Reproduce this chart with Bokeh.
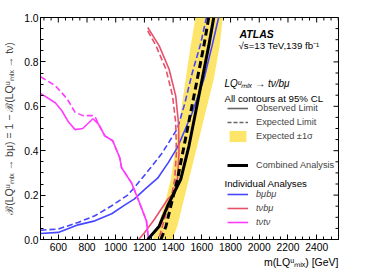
import math
from bokeh.plotting import figure
from bokeh.models import (Range1d, SingleIntervalTicker, Label, Legend, Title,
                          LegendItem, PrintfTickFormatter)
from bokeh.embed import file_html
from bokeh.resources import INLINE

# ---------------- data ----------------
x_min, x_max = 476, 2552
y_min, y_max = 0.0, 1.0
x_tick_step = 200
y_tick_step = 0.2
x_major_ticks = [600, 800, 1000, 1200, 1400, 1600, 1800, 2000, 2200, 2400]
y_major_ticks = [0.0, 0.2, 0.4, 0.6, 0.8, 1.0]

# combined analysis (black) and expected +-1 sigma band
comb_y = [0.0, 0.06, 0.151, 0.271, 0.421, 0.571, 0.722, 0.872, 1.0]
comb_obs_x = [1223, 1303, 1361, 1453, 1510, 1556, 1602, 1648, 1683]
comb_exp_x = [1315, 1350, 1384, 1430, 1476, 1522, 1568, 1614, 1648]
band_lo_x = [1257, 1292, 1338, 1384, 1419, 1453, 1487, 1522, 1556]
band_hi_x = [1395, 1429, 1464, 1510, 1568, 1625, 1683, 1724, 1746]

# b mu b mu (blue)
bb_obs_x = [476, 600, 738, 855, 972, 1062, 1131, 1200, 1292, 1365, 1430, 1480, 1533, 1614, 1671, 1717]
bb_obs_y = [0.027, 0.032, 0.066, 0.084, 0.116, 0.155, 0.183, 0.225, 0.276, 0.345, 0.415, 0.49, 0.571, 0.722, 0.872, 1.0]
bb_exp_x = [476, 600, 738, 855, 972, 1083, 1131, 1246, 1324, 1430, 1480, 1533, 1591, 1632]
bb_exp_y = [0.042, 0.047, 0.077, 0.107, 0.152, 0.2, 0.235, 0.325, 0.39, 0.5, 0.61, 0.75, 0.88, 1.0]

# t nu b mu (red)
tb_obs_x = [1223, 1303, 1372, 1418, 1437, 1441, 1430, 1407, 1361, 1315, 1269, 1200, 1160]
tb_obs_y = [0.955, 0.872, 0.767, 0.647, 0.526, 0.391, 0.271, 0.211, 0.18, 0.135, 0.09, 0.03, 0.0]
tb_exp_x = [1223, 1281, 1350, 1396, 1418, 1423, 1411, 1384, 1338, 1300]
tb_exp_y = [0.94, 0.872, 0.767, 0.647, 0.526, 0.391, 0.271, 0.18, 0.09, 0.0]

# t nu t nu (magenta)
tt_obs_x = [476, 579, 625, 670, 717, 770, 841, 880, 924, 979, 1028, 1041, 1110, 1152, 1214, 1228]
tt_obs_y = [0.658, 0.616, 0.58, 0.53, 0.495, 0.5, 0.544, 0.52, 0.467, 0.445, 0.368, 0.323, 0.255, 0.188, 0.084, 0.0]
tt_exp_x = [476, 579, 660, 717, 772, 841, 860, 880, 924, 979, 1028, 1041, 1110, 1152, 1214, 1228]
tt_exp_y = [0.733, 0.693, 0.635, 0.573, 0.558, 0.558, 0.548, 0.52, 0.467, 0.445, 0.368, 0.323, 0.255, 0.188, 0.084, 0.0]

# ---------------- figure ----------------
FONT = "Liberation Sans"
BLUE = "#4646ff"
RED = "#e8506a"
MAG = "#ff3cff"
YEL = "#fde56a"

p = figure(width=358, height=272,
           x_range=Range1d(x_min, x_max), y_range=Range1d(y_min, y_max),
           output_backend="svg", toolbar_location=None,
           min_border_left=37, min_border_right=20, min_border_top=17, min_border_bottom=33)
p.xgrid.visible = False
p.ygrid.visible = False
p.outline_line_color = "black"
p.background_fill_color = "white"

p.xaxis.ticker = SingleIntervalTicker(interval=x_tick_step, num_minor_ticks=4)
p.yaxis.ticker = SingleIntervalTicker(interval=y_tick_step, num_minor_ticks=4)
p.yaxis.formatter = PrintfTickFormatter(format="%.1f")

for ax in [p.xaxis[0], p.yaxis[0]]:
    ax.axis_line_color = "black"
    ax.major_tick_line_color = "black"
    ax.minor_tick_line_color = "black"
    ax.major_tick_in = 5
    ax.major_tick_out = 0
    ax.minor_tick_in = 3
    ax.minor_tick_out = 0
    ax.major_label_text_font = FONT
    ax.major_label_text_font_size = "10.3px"
    ax.major_label_text_color = "black"
p.xaxis[0].major_label_standoff = 3
p.yaxis[0].major_label_standoff = 2

p.yaxis[0].axis_label = "ℬ(LQᵘₘᵢₓ → bμ) = 1 − ℬ(LQᵘₘᵢₓ → tν)"
p.yaxis[0].axis_label_text_font = FONT
p.yaxis[0].axis_label_text_font_size = "10.5px"
p.yaxis[0].axis_label_text_font_style = "normal"
p.yaxis[0].axis_label_standoff = 6

# x axis title, right aligned under the frame
p.add_layout(Title(text="m(LQᵘₘᵢₓ) [GeV]", align="right", text_font=FONT,
                   text_font_size="10.5px", text_font_style="normal",
                   text_color="black", standoff=0, offset=0), "below")

# mirrored inward ticks on the top and right edges
x_minor_ticks = [v for v in range(500, x_max + 1, x_tick_step // 4) if v not in x_major_ticks]
y_minor_ticks = [round(i * y_tick_step / 4, 3) for i in range(21)]
y_minor_ticks = [v for v in y_minor_ticks if v not in y_major_ticks]
p.ray(x=x_major_ticks, y=[y_max] * len(x_major_ticks), length=5, length_units="screen",
      angle=-math.pi / 2, line_color="black", line_width=1)
p.ray(x=x_minor_ticks, y=[y_max] * len(x_minor_ticks), length=3, length_units="screen",
      angle=-math.pi / 2, line_color="black", line_width=1)
p.ray(x=[x_max] * len(y_major_ticks), y=y_major_ticks, length=5, length_units="screen",
      angle=math.pi, line_color="black", line_width=1)
p.ray(x=[x_max] * len(y_minor_ticks), y=y_minor_ticks, length=3, length_units="screen",
      angle=math.pi, line_color="black", line_width=1)

# band
band = p.harea(x1=band_lo_x, x2=band_hi_x, y=comb_y, fill_color=YEL, fill_alpha=1.0)

# individual analyses
bb_o = p.line(bb_obs_x, bb_obs_y, line_color=BLUE, line_width=1.6)
p.line(bb_exp_x, bb_exp_y, line_color=BLUE, line_width=1.6, line_dash="6 3")
tb_o = p.line(tb_obs_x, tb_obs_y, line_color=RED, line_width=1.6)
p.line(tb_exp_x, tb_exp_y, line_color=RED, line_width=1.6, line_dash="6 3")
tt_o = p.line(tt_obs_x, tt_obs_y, line_color=MAG, line_width=1.6)
p.line(tt_exp_x, tt_exp_y, line_color=MAG, line_width=1.6, line_dash="6 3")

# combined
comb_o = p.line(comb_obs_x, comb_y, line_color="black", line_width=3)
p.line(comb_exp_x, comb_y, line_color="black", line_width=3, line_dash="7 4")

# legend-only renderers (no visible data)
nan = float("nan")
obs_dummy = p.line(x=[nan, nan], y=[nan, nan], line_color="#666666", line_width=1.6)
exp_dummy = p.line(x=[nan, nan], y=[nan, nan], line_color="#666666", line_width=1.6, line_dash="4 2")


def make_legend(items, loc, style="normal"):
    lg = Legend(items=items, location=loc,
                label_text_font=FONT, label_text_font_size="9.2px",
                label_text_font_style=style,
                glyph_width=21, glyph_height=14, label_height=14, label_standoff=8,
                padding=0, spacing=0, margin=0,
                border_line_alpha=0, background_fill_alpha=0)
    p.add_layout(lg)
    return lg


make_legend([LegendItem(label="Observed Limit", renderers=[obs_dummy]),
             LegendItem(label="Expected Limit", renderers=[exp_dummy]),
             LegendItem(label="Expected ±1σ", renderers=[band])], (187, 96))
make_legend([LegendItem(label="Combined Analysis", renderers=[comb_o])], (187, 67))
make_legend([LegendItem(label="bμbμ", renderers=[bb_o]),
             LegendItem(label="tνbμ", renderers=[tb_o]),
             LegendItem(label="tνtν", renderers=[tt_o])], (187, 10), style="italic")


def label(x, y, text, size="9.7px", style="normal", align="left"):
    p.add_layout(Label(x=x, y=y, x_units="screen", y_units="screen", text=text,
                       text_font=FONT, text_font_size=size, text_font_style=style,
                       text_align=align, text_baseline="alphabetic", text_color="black"))


label(199, 205.5, "ATLAS", size="10.5px", style="bold italic")
label(198, 194, "√s=13 TeV,139 fb⁻¹")
label(184, 156, "LQᵘₘᵢₓ → tν/bμ", size="10px", style="italic")
label(184, 141.5, "All contours at 95% CL")
label(184, 56.5, "Individual Analyses")

open("out.html", "w").write(file_html(p, INLINE))
